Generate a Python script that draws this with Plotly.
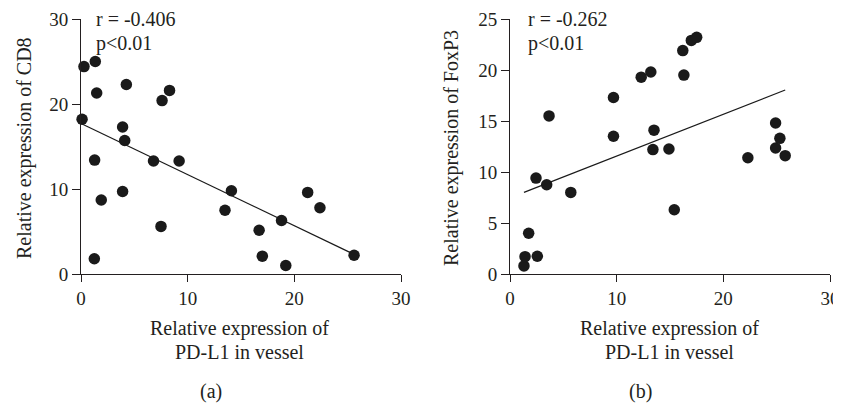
import numpy as np
import plotly.graph_objects as go

# Panel (a): PD-L1 in vessel vs CD8
a_x = [0.28, 1.34, 1.47, 4.25, 7.6, 8.3, 0.1, 3.9, 4.1, 1.28, 6.8, 9.2, 3.9, 1.9,
       14.1, 21.25, 22.4, 13.5, 7.5, 16.7, 18.8, 17.0, 19.2, 25.6, 1.25]
a_y = [24.4, 25.0, 21.3, 22.3, 20.4, 21.6, 18.2, 17.3, 15.7, 13.4, 13.3, 13.3, 9.7, 8.7,
       9.8, 9.6, 7.8, 7.5, 5.6, 5.15, 6.3, 2.1, 1.0, 2.2, 1.8]

# Panel (b): PD-L1 in vessel vs FoxP3
b_x = [1.31, 1.41, 1.75, 2.56, 2.44, 3.44, 3.66, 5.7, 9.7, 9.7, 12.3, 13.2, 13.5, 13.4,
       14.9, 15.4, 16.2, 16.3, 17.0, 17.5, 22.3, 24.9, 24.9, 25.3, 25.8]
b_y = [0.79, 1.70, 4.0, 1.74, 9.4, 8.75, 15.5, 8.0, 17.3, 13.5, 19.3, 19.8, 14.1, 12.2,
       12.25, 6.3, 21.9, 19.5, 22.9, 23.2, 11.4, 14.8, 12.35, 13.3, 11.6]

stats_a = ["r = -0.406", "p<0.01"]
stats_b = ["r = -0.262", "p<0.01"]
x_title = ["Relative expression of", "PD-L1 in vessel"]
y_title_a = "Relative expression of CD8"
y_title_b = "Relative expression of FoxP3"
panel_labels = ["(a)", "(b)"]

FONT = "Liberation Serif, Times New Roman, serif"
TXT = "#231f20"
W, H = 841, 406
OFF = 8  # default page body margin

def px(x):
    return (x - OFF) / W

def py(y):
    return 1 - (y - OFF) / H

fig = go.Figure()

def add_panel(xs, ys, xa, ya):
    fig.add_trace(go.Scatter(x=xs, y=ys, mode="markers", xaxis=xa, yaxis=ya,
                             marker=dict(size=11.5, color="#1a1a1a"), cliponaxis=False,
                             showlegend=False))
    k, b = np.polyfit(xs, ys, 1)
    lx = np.array([min(xs), max(xs)])
    fig.add_trace(go.Scatter(x=lx, y=k * lx + b, mode="lines", xaxis=xa, yaxis=ya,
                             line=dict(color="#1a1a1a", width=1.2), showlegend=False,
                             cliponaxis=False))

add_panel(a_x, a_y, "x", "y")
add_panel(b_x, b_y, "x2", "y2")

ydom = [py(274), py(19)]
xdom_a = [px(81), px(401)]
xdom_b = [px(510), px(830)]

axis_common = dict(showgrid=False, zeroline=False, showline=True, linecolor="#231f20",
                   linewidth=1, ticks="outside", tickcolor="#231f20",
                   automargin=False,
                   tickfont=dict(family=FONT, size=19, color=TXT))

fig.update_layout(
    width=W, height=H, margin=dict(l=0, r=0, t=0, b=0),
    paper_bgcolor="white", plot_bgcolor="white",
    xaxis=dict(domain=xdom_a, range=[0, 30], tickvals=[0, 10, 20, 30], anchor="y", ticklen=7, **axis_common),
    yaxis=dict(domain=ydom, range=[0, 30], tickvals=[0, 10, 20, 30], anchor="x", ticklen=8, **axis_common),
    xaxis2=dict(domain=xdom_b, range=[0, 30], tickvals=[0, 10, 20, 30], anchor="y2", ticklen=7, **axis_common),
    yaxis2=dict(domain=ydom, range=[0, 25], tickvals=[0, 5, 10, 15, 20, 25], anchor="x2", ticklen=8, **axis_common),
)

ann = []
def txt(x, y, s, size=20, **kw):
    d = dict(x=px(x), y=py(y), xref="paper", yref="paper", text=s, showarrow=False,
             font=dict(family=FONT, size=size, color=TXT))
    d.update(kw)
    ann.append(d)

# stats
txt(94, 19, stats_a[0], xanchor="left", yanchor="middle")
txt(94, 43, stats_a[1], xanchor="left", yanchor="middle")
txt(526, 19, stats_b[0], xanchor="left", yanchor="middle")
txt(526, 43, stats_b[1], xanchor="left", yanchor="middle")
# x titles
for cx in (239, 669):
    txt(cx, 328, x_title[0], xanchor="center", yanchor="middle")
    txt(cx, 352, x_title[1], xanchor="center", yanchor="middle")
# y titles
txt(24, 148, y_title_a, xanchor="center", yanchor="middle", textangle=-90)
txt(451, 148, y_title_b, xanchor="center", yanchor="middle", textangle=-90)
# panel labels
txt(211, 391, panel_labels[0], xanchor="center", yanchor="middle")
txt(640, 391, panel_labels[1], xanchor="center", yanchor="middle")

fig.update_layout(annotations=ann)
fig.write_html("out.html")
